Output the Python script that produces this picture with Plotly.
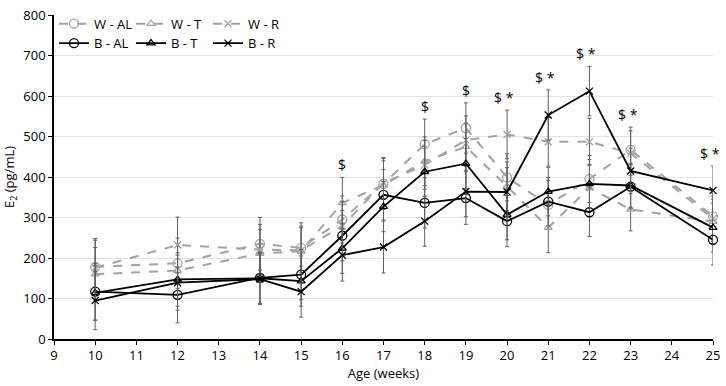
import plotly.graph_objects as go

weeks = [10, 12, 14, 15, 16, 17, 18, 19, 20, 21, 22, 23, 25]

W_AL = [178, 187, 235, 225, 295, 383, 481, 521, 399, 331, 395, 467, 303]
W_T = [160, 169, 211, 217, 336, 380, 439, 475, 377, 275, 373, 320, 290]
W_R = [176, 232, 221, 219, 279, 385, 430, 491, 505, 487, 487, 459, 297]
B_AL = [117, 109, 151, 159, 255, 356, 336, 348, 291, 339, 313, 376, 245]
B_T = [114, 147, 150, 143, 224, 327, 413, 433, 307, 364, 383, 379, 275]
B_R = [95, 139, 148, 117, 207, 227, 291, 364, 363, 553, 612, 415, 367]

W_AL_err = [70, 62, 65, 62, 58, 63, 62, 62, 58, 60, 58, 56, 58]
W_T_err = [66, 60, 60, 58, 63, 60, 60, 58, 60, 62, 58, 53, 55]
W_R_err = [68, 69, 62, 60, 60, 63, 60, 60, 60, 60, 58, 55, 56]
B_AL_err = [70, 69, 63, 62, 62, 62, 62, 65, 63, 60, 60, 55, 62]
B_T_err = [68, 66, 63, 62, 62, 62, 62, 62, 62, 60, 60, 55, 60]
B_R_err = [72, 68, 63, 63, 64, 64, 62, 62, 60, 62, 61, 56, 60]

names = ["W - AL", "W - T", "W - R", "B - AL", "B - T", "B - R"]
series = [W_AL, W_T, W_R, B_AL, B_T, B_R]
errors = [W_AL_err, W_T_err, W_R_err, B_AL_err, B_T_err, B_R_err]
symbols = ["circle-open", "triangle-up-open", "x-thin-open"] * 2

ann_weeks = [16, 18, 19, 20, 21, 22, 23, 25]
ann_text = ["$", "$", "$", "$ *", "$ *", "$ *", "$ *", "$ *"]

x_ticks = list(range(9, 26))
y_ticks = list(range(0, 801, 100))

GREY = "#a3a3a3"
ERR = "#606060"
FONT = "Open Sans"

fig = go.Figure()
for i, (nm, ys, er, sym) in enumerate(zip(names, series, errors, symbols)):
    white = i < 3
    col = GREY if white else "#000000"
    fig.add_trace(go.Scatter(
        x=weeks, y=ys, name=nm, mode="lines+markers", cliponaxis=False,
        line=dict(color=col, width=2 if white else 1.8, dash="dash" if white else "solid"),
        marker=dict(symbol=sym, size=9 if "circle" in sym else 7,
                    color=col, line=dict(color=col, width=1.3)),
        error_y=dict(type="data", array=er, visible=True, color=ERR,
                     thickness=1, width=2),
        legend="legend" if white else "legend2",
    ))

for wk, txt in zip(ann_weeks, ann_text):
    idx = weeks.index(wk)
    top = max(s[idx] + e[idx] for s, e in zip(series, errors))
    fig.add_annotation(x=wk, y=top, text=txt, showarrow=False,
                       yanchor="bottom", yshift=1, xshift=-3 if "*" in txt else 0,
                       font=dict(family=FONT, size=14, color="#000000"))

leg_common = dict(orientation="h", entrywidth=32, entrywidthmode="pixels",
                  bgcolor="rgba(0,0,0,0)", font=dict(family=FONT, size=13, color="#000"),
                  xanchor="left", yanchor="middle", tracegroupgap=0)

fig.update_layout(
    width=726, height=386,
    margin=dict(l=53, r=7, t=6, b=47),
    plot_bgcolor="white", paper_bgcolor="white",
    font=dict(family=FONT, size=13, color="#000"),
    legend=dict(x=0.0, y=0.973, **leg_common),
    legend2=dict(x=0.0, y=0.913, **leg_common),
    xaxis=dict(range=[9, 25], tickvals=x_ticks, ticktext=[str(v) for v in x_ticks],
               showgrid=False, zeroline=False, showline=True, linecolor="#000",
               linewidth=1.5, ticks="outside", ticklen=4, tickcolor="#000",
               ticklabeloverflow="allow",
               tickfont=dict(family=FONT, size=13),
               title=dict(text="Age (weeks)", font=dict(family=FONT, size=13), standoff=6)),
    yaxis=dict(range=[0, 800], tickvals=y_ticks, showgrid=True, gridcolor="#e3e3e3",
               gridwidth=1, zeroline=False, showline=True, linecolor="#000",
               linewidth=1.5, ticks="outside", ticklen=4, tickcolor="#000",
               tickfont=dict(family=FONT, size=13),
               title=dict(text="E<sub>2</sub> (pg/mL)", font=dict(family=FONT, size=13), standoff=8)),
)

fig.write_html("out.html", config={"displayModeBar": False},
               post_script="document.body.style.margin='0px';")
